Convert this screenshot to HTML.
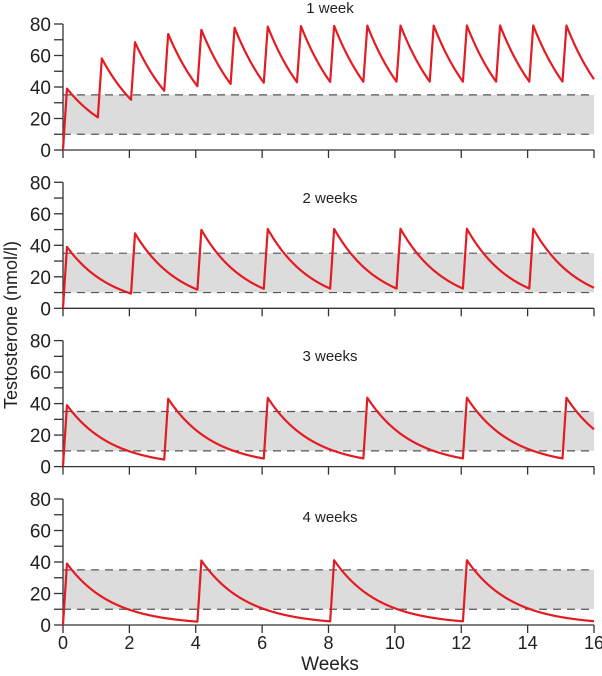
<!DOCTYPE html>
<html><head><meta charset="utf-8"><style>
body{margin:0;background:#fff}
svg{display:block;font-family:"Liberation Sans",sans-serif}
</style></head><body>
<svg id="s" width="602" height="676" viewBox="0 0 602 676" xmlns="http://www.w3.org/2000/svg">
<text x="330" y="13" font-size="15" text-anchor="middle" fill="#222">1 week</text>
<text x="330" y="203" font-size="15" text-anchor="middle" fill="#222">2 weeks</text>
<text x="330" y="361" font-size="15" text-anchor="middle" fill="#222">3 weeks</text>
<text x="330" y="522" font-size="15" text-anchor="middle" fill="#222">4 weeks</text>
<text transform="translate(17,325) rotate(-90)" font-size="18" text-anchor="middle" fill="#222">Testosterone (nmol/l)</text>
<text x="330" y="670" font-size="19" text-anchor="middle" fill="#222">Weeks</text>
</svg>
<script>
(function(){
var s=document.getElementById('s'),NS='http://www.w3.org/2000/svg';
function el(t,a,txt){var e=document.createElementNS(NS,t);for(var k in a)e.setAttribute(k,a[k]);if(txt!=null)e.textContent=txt;s.appendChild(e);return e;}
var x0=63,x1=594,xs=(x1-x0)/16;
var tops=[24,182.3,340.6,499];
var R=0.12,A=39;
tops.forEach(function(pt,p){
 var K=p==0?0.68:0.74;
 var f=function(d){if(d<0)return 0;if(d<R)return A*d/R;return A*Math.exp(-K*(d-R));};
 var pb=pt+126,ys=126/80,P=p+1;
 var Y=function(v){return pb-v*ys;};
 el('rect',{x:x0,y:Y(35),width:x1-x0,height:Y(10)-Y(35),fill:'#dcdcdd'});
 [10,35].forEach(function(v){el('line',{x1:x0,x2:x1,y1:Y(v),y2:Y(v),stroke:'#555','stroke-width':1.2,'stroke-dasharray':'8 6'});});
 el('line',{x1:x0,x2:x0,y1:pt,y2:pb,stroke:'#333','stroke-width':1.3});
 el('line',{x1:x0,x2:x1,y1:pb,y2:pb,stroke:'#333','stroke-width':1.3});
 for(var v=0;v<=80;v+=10){el('line',{x1:x0-9,x2:x0,y1:Y(v),y2:Y(v),stroke:'#333','stroke-width':1.3});
  if(v%20==0)el('text',{x:x0-12,y:Y(v)+7,'font-size':19,'text-anchor':'end',fill:'#222'},String(v));}
 for(var w=0;w<=16;w+=2){el('line',{x1:x0+w*xs,x2:x0+w*xs,y1:pb,y2:pb+8,stroke:'#333','stroke-width':1.3});
  if(p==3)el('text',{x:x0+w*xs,y:pb+24,'font-size':18,'text-anchor':'middle',fill:'#222'},String(w));}
 var d='';
 for(var i=0;i<=3200;i++){var t=i/200,c=0;for(var k=0;k*P<=t;k++)c+=f(t-k*P-(k?0.05:0));
  d+=(i?'L':'M')+(x0+t*xs).toFixed(2)+' '+Y(c).toFixed(2);}
 el('path',{d:d,fill:'none',stroke:'#e31b23','stroke-width':2.2,'stroke-linejoin':'round'});
});
})();
</script>
</body></html>
